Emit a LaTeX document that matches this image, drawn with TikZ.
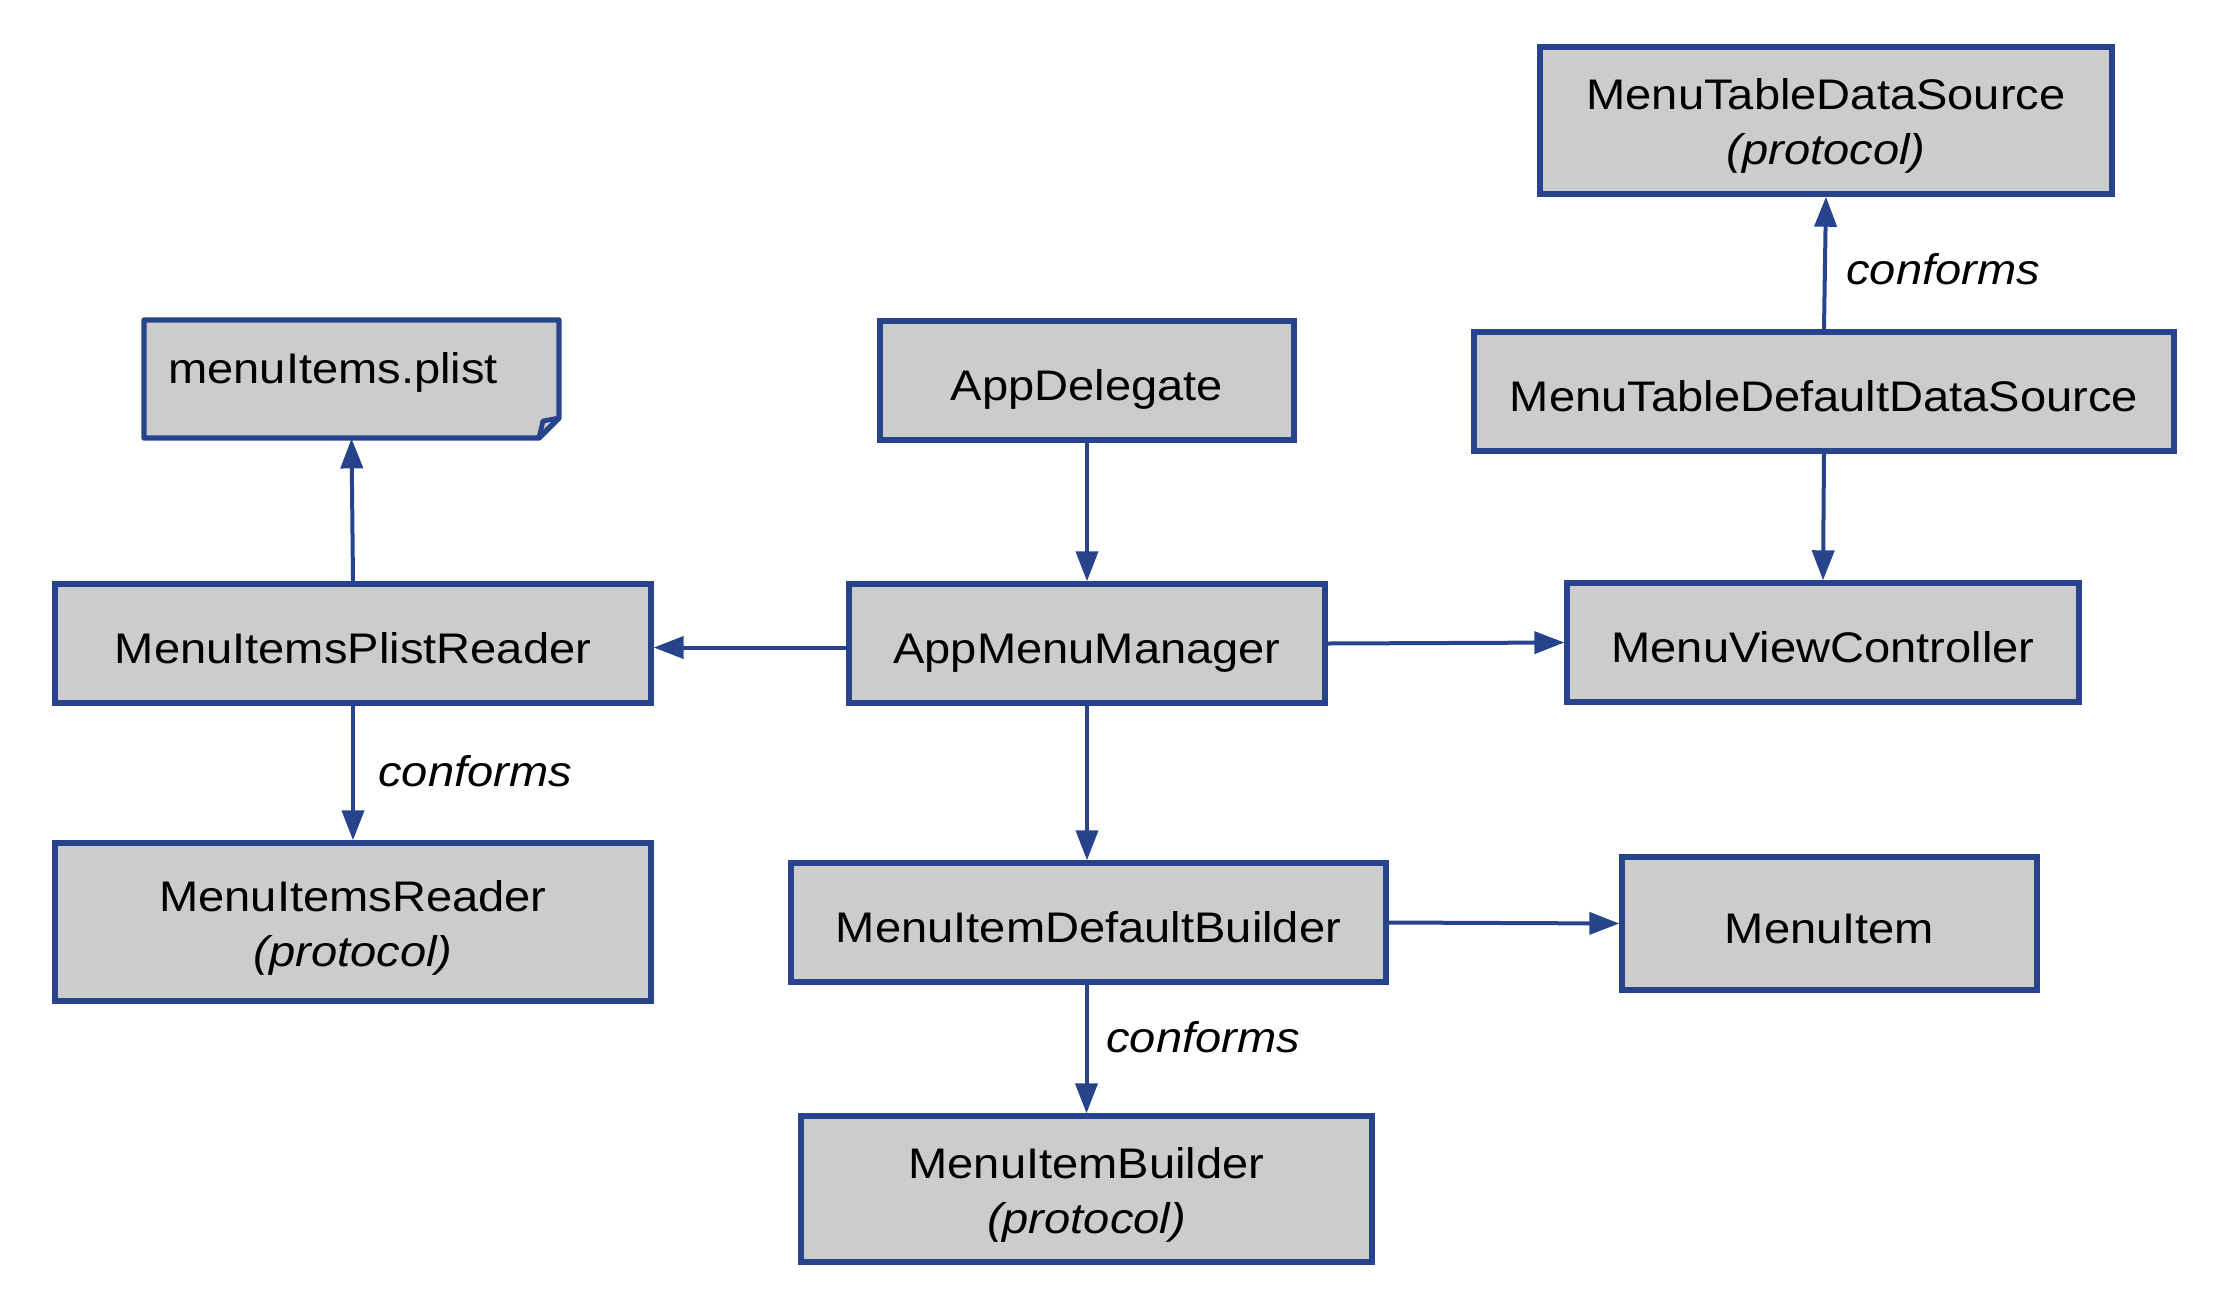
\documentclass[tikz,border=0pt]{standalone}
\usepackage{fontspec}
\setmainfont{Liberation Sans}[FakeStretch=1.1]
\usetikzlibrary{arrows.meta}
\definecolor{bblue}{HTML}{26438C}
\definecolor{bgray}{HTML}{CCCCCC}
\begin{document}
\begin{tikzpicture}[x=0.5pt,y=-0.5pt,
  box/.style={draw=bblue, fill=bgray, line width=2.7pt, inner sep=0pt, align=center,
    font=\fontsize{21.4}{27.5}\selectfont},
  one/.style={text height=19.5pt, text depth=0pt},
  two/.style={text height=44pt, text depth=0pt},
  conn/.style={draw=bblue, line width=2pt, -{Triangle[length=15pt,width=11pt]}},
  lbl/.style={font=\fontsize{21.4}{25}\selectfont\itshape, anchor=west, inner sep=0pt}]
\useasboundingbox (0,0) rectangle (2218,1308);

% file shape
\node[inner sep=0pt, minimum width=207.5pt, minimum height=59pt] (plist) at (351.5,379) {};
\draw[draw=bblue, fill=bgray, line width=2.7pt, line join=round]
  (144,320) -- (559,320) -- (559,418) -- (539,438) -- (144,438) -- cycle;
\draw[draw=bblue, line width=2.4pt, line join=round] (539,438) -- (543,421) -- (559,418);
\node[anchor=west, inner sep=0pt, font=\fontsize{21.4}{25}\selectfont] (plisttext) at (168,372) {menuItems.plist};

\node[box, one, minimum width=207pt, minimum height=59.5pt] (appdel) at (1087,380.5) {AppDelegate};
\node[box, two, minimum width=286pt, minimum height=73.5pt] (mtds) at (1826,120.5) {MenuTableDataSource\\\textit{(protocol)}};
\node[box, one, minimum width=350pt, minimum height=59.5pt] (mtdds) at (1824,391.5) {MenuTableDefaultDataSource};
\node[box, one, minimum width=298pt, minimum height=59.5pt] (mipr) at (353,643.5) {MenuItemsPlistReader};
\node[box, one, minimum width=238pt, minimum height=59.5pt] (amm) at (1087,643.5) {AppMenuManager};
\node[box, one, minimum width=256pt, minimum height=59.5pt] (mvc) at (1823,642.5) {MenuViewController};
\node[box, two, minimum width=298pt, minimum height=79pt] (mir) at (353,922) {MenuItemsReader\\\textit{(protocol)}};
\node[box, one, minimum width=297.5pt, minimum height=59.5pt] (midb) at (1088.5,922.5) {MenuItemDefaultBuilder};
\node[box, one, minimum width=207.5pt, minimum height=66.5pt] (mi) at (1829.5,923.5) {MenuItem};
\node[box, two, minimum width=285.5pt, minimum height=73pt] (mib) at (1086.5,1189) {MenuItemBuilder\\\textit{(protocol)}};

\draw[conn] (mipr.north) -- (plist.south);
\draw[conn] (appdel.south) -- (amm.north);
\draw[conn] ([yshift=-2pt]amm.west) -- ([yshift=-2pt]mipr.east);
\draw[conn] (amm.east) -- (mvc.west);
\draw[conn] (mtdds.south) -- (mvc.north);
\draw[conn] (mtdds.north) -- (mtds.south);
\draw[conn] (mipr.south) -- (mir.north);
\draw[conn] (amm.south) -- (amm.south |- midb.north);
\draw[conn] (midb.east) -- (mi.west);
\draw[conn] (midb.south -| mib.north) -- (mib.north);

\node[lbl] (c1) at (1846,269) {conforms};
\node[lbl] (c2) at (378,771) {conforms};
\node[lbl] (c3) at (1106,1037) {conforms};
\end{tikzpicture}
\end{document}
